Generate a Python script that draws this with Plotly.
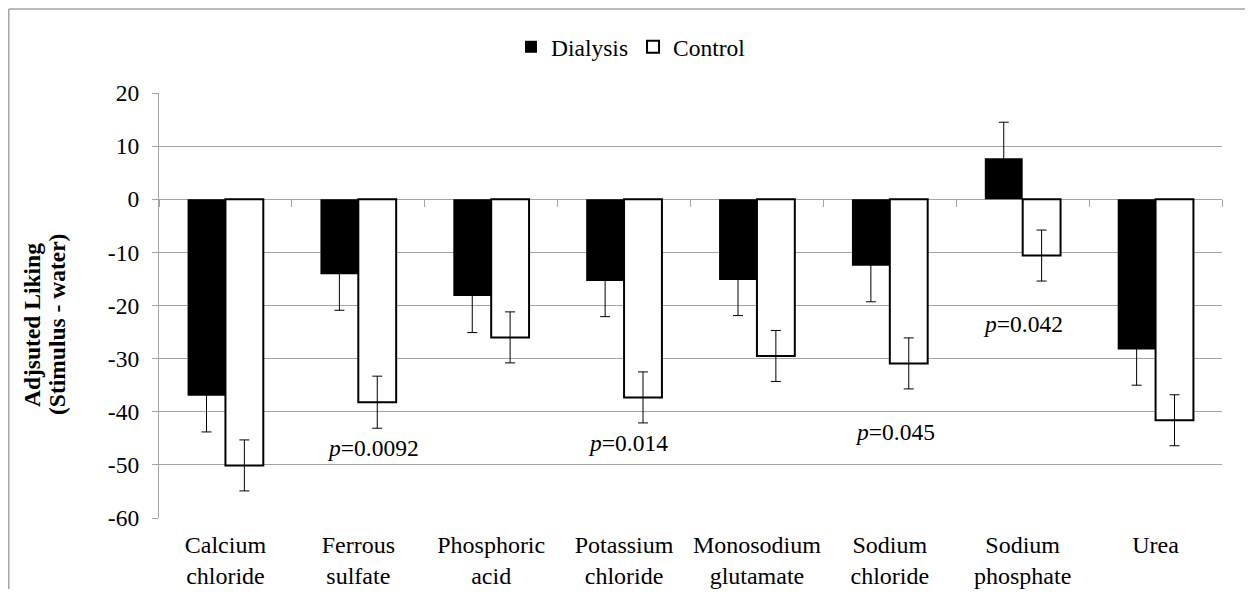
import plotly.graph_objects as go

categories = ["Calcium<br>chloride", "Ferrous<br>sulfate", "Phosphoric<br>acid", "Potassium<br>chloride",
              "Monosodium<br>glutamate", "Sodium<br>chloride", "Sodium<br>phosphate", "Urea"]
dialysis = [-37.0, -14.1, -18.2, -15.4, -15.2, -12.5, 7.7, -28.3]
dialysis_err = [6.8, 6.8, 6.9, 6.7, 6.7, 6.8, 6.8, 6.7]
control = [-50.1, -38.2, -26.0, -37.3, -29.5, -30.9, -10.6, -41.6]
control_err = [4.8, 4.9, 4.8, 4.8, 4.8, 4.8, 4.8, 4.8]

p_labels = ["<i>p</i>=0.0092", "<i>p</i>=0.014", "<i>p</i>=0.045", "<i>p</i>=0.042"]
p_cats = [1, 3, 5, 6]
p_y = [-46.8, -45.9, -43.8, -23.4]
p_shift = [15, 4, 5, 0]

y_ticks = [20, 10, 0, -10, -20, -30, -40, -50, -60]
y_ticktext = ["20", "10", "0", "-10", "-20", "-30", "-40", "-50", "-60"]
boundaries = [-0.5, 0.5, 1.5, 2.5, 3.5, 4.5, 5.5, 6.5, 7.5]

FONT = "Liberation Serif, Times New Roman, serif"
GRID = "#a3a3a3"
BORDER = "#a6a6a6"

# The page body has an 8px margin, so the figure is laid out 8px smaller/offset.
W, H = 1237, 581
L, T = 151, 85
PW, PH = 1063, 425

fig = go.Figure()
fig.add_trace(go.Bar(
    name="Dialysis", x=categories, y=dialysis,
    marker=dict(color="black", line=dict(color="black", width=0)),
    error_y=dict(type="data", array=dialysis_err, color="black", thickness=1, width=5),
))
fig.add_trace(go.Bar(
    name="Control", x=categories, y=control,
    marker=dict(color="white", line=dict(color="black", width=2)),
    error_y=dict(type="data", array=control_err, color="black", thickness=1, width=5),
))
# helper trace for zero-line tick marks axis
fig.add_trace(go.Scatter(x=[boundaries[0]], y=[0], xaxis="x2", mode="markers",
                         marker=dict(opacity=0), showlegend=False, hoverinfo="skip"))

for lab, ci, yv, sh in zip(p_labels, p_cats, p_y, p_shift):
    fig.add_annotation(x=categories[ci], y=yv, text=lab, showarrow=False, xshift=sh,
                       xanchor="center", yanchor="middle", font=dict(size=23.5, color="black", family=FONT))

# y axis title (two lines)
title_y = (PH - (325 - 8 - T)) / PH
fig.add_annotation(xref="paper", yref="paper", x=(32 - 8 - L) / PW, y=title_y,
                   text="<b>Adjsuted Liking</b>", textangle=-90, showarrow=False,
                   xanchor="center", yanchor="middle", font=dict(size=23.5, color="black", family=FONT))
fig.add_annotation(xref="paper", yref="paper", x=(57 - 8 - L) / PW, y=title_y,
                   text="<b>(Stimulus - water)</b>", textangle=-90, showarrow=False,
                   xanchor="center", yanchor="middle", font=dict(size=23.5, color="black", family=FONT))

# outer chart border (top and left visible)
bx = (0.75 - L) / PW
by = (PH + T - 1) / PH
fig.add_shape(type="line", xref="paper", yref="paper", x0=bx, x1=1.2, y0=by, y1=by,
              line=dict(color=BORDER, width=1.5))
fig.add_shape(type="line", xref="paper", yref="paper", x0=bx, x1=bx, y0=by, y1=-0.5,
              line=dict(color=BORDER, width=1.5))

fig.update_layout(
    width=W, height=H,
    margin=dict(l=L, r=W - L - PW, t=T, b=H - T - PH, autoexpand=False),
    paper_bgcolor="white", plot_bgcolor="white",
    font=dict(family=FONT, size=23.5, color="black"),
    barmode="group", bargap=0.43, bargroupgap=0,
    showlegend=True,
    legend=dict(orientation="h", x=(631 - 8 - L) / PW, xanchor="center",
                y=(PH - (47 - 8 - T)) / PH, yanchor="middle", font=dict(size=23.5, family=FONT),
                itemwidth=30, traceorder="normal", bgcolor="rgba(0,0,0,0)"),
    xaxis=dict(type="category", range=[-0.5, 7.5], showgrid=False, showline=False, ticks="",
               tickfont=dict(size=24, family=FONT), zeroline=False, ticklabelstandoff=10),
    xaxis2=dict(overlaying="x", anchor="free", position=0.75, range=[-0.5, 7.5], tickvals=boundaries,
                ticks="outside", ticklen=7, tickcolor=GRID, tickwidth=1, showticklabels=False,
                showline=False, showgrid=False, zeroline=False),
    yaxis=dict(range=[-60, 20], tickvals=y_ticks, ticktext=y_ticktext, showgrid=True, gridcolor=GRID,
               gridwidth=1.3, zeroline=True, zerolinecolor=GRID, zerolinewidth=1.3,
               showline=True, linecolor=GRID, linewidth=1.3, ticks="outside", ticklen=6,
               tickcolor=GRID, tickfont=dict(size=23.5, family=FONT), ticklabelstandoff=8),
)

fig.write_html("out.html")
